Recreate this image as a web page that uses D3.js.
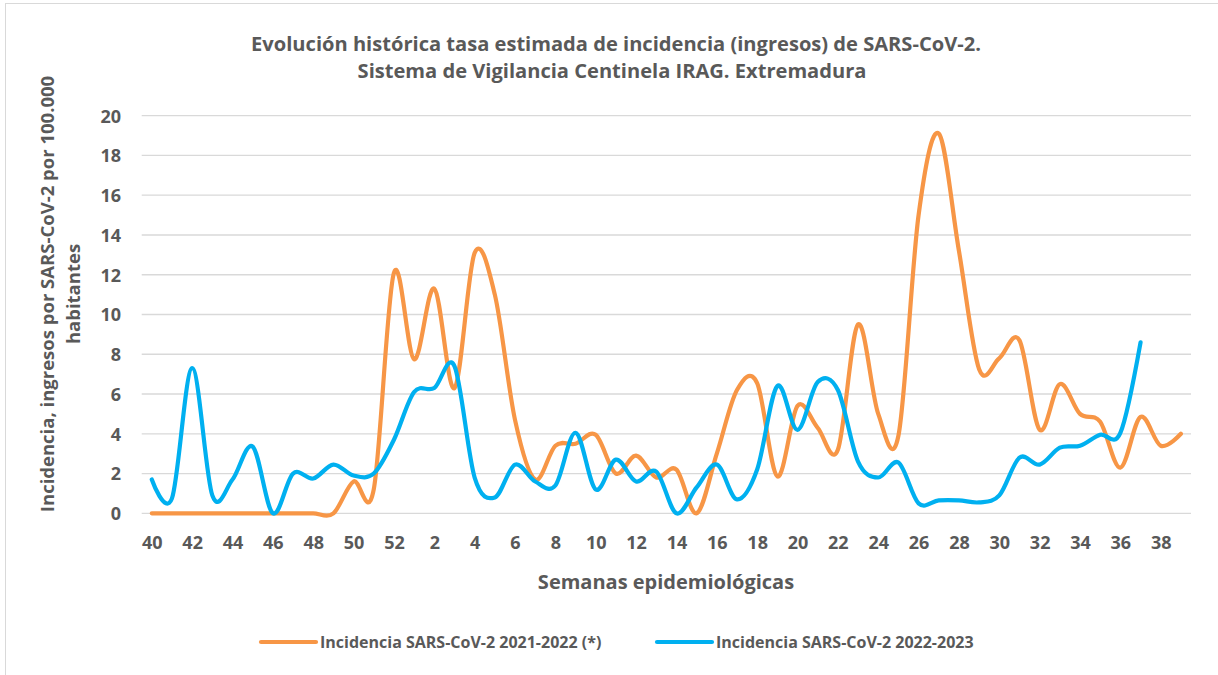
<!DOCTYPE html>
<html lang="es">
<head>
<meta charset="UTF-8">
<title>Incidencia SARS-CoV-2 Extremadura</title>
<script src="https://d3js.org/d3.v7.min.js"></script>
<style>
  body { margin: 0; background: #fff; }
  text { font-family: "Open Sans", "Noto Sans", sans-serif; font-weight: bold; fill: #595959; }
</style>
</head>
<body>
<div id="chart"></div>
<script>
// semanas epidemiológicas 40..52 y 1..39
var weeks = ["40","41","42","43","44","45","46","47","48","49","50","51","52",
             "1","2","3","4","5","6","7","8","9","10","11","12","13","14","15","16","17","18","19","20",
             "21","22","23","24","25","26","27","28","29","30","31","32","33","34","35","36","37","38","39"];

var serie2122 = [0,0,0,0,0,0,0,0,0,0,1.6,1.2,12.1,
                 7.75,11.3,6.3,13.1,11.0,4.7,1.7,3.4,3.5,3.95,2.0,2.9,1.8,2.2,0,3.0,6.2,6.55,1.85,5.4,
                 4.3,3.2,9.5,5.0,3.9,15.0,19.1,13.2,7.25,7.8,8.7,4.2,6.5,5.0,4.6,2.3,4.85,3.4,4.0];

var serie2223 = [1.7,0.75,7.3,0.9,1.7,3.35,0,2.0,1.75,2.45,1.9,2.0,3.7,
                 6.1,6.3,7.4,1.8,0.8,2.45,1.6,1.4,4.05,1.2,2.7,1.6,2.1,0,1.3,2.45,0.7,2.2,6.4,4.2,
                 6.6,6.2,2.6,1.8,2.55,0.5,0.65,0.65,0.55,0.9,2.8,2.45,3.3,3.4,3.95,4.05,8.6];

var yTicks = [0,2,4,6,8,10,12,14,16,18,20];
var seriesNames = ["Incidencia SARS-CoV-2 2021-2022 (*)", "Incidencia SARS-CoV-2 2022-2023"];
var seriesColors = ["#F79646", "#00B0F0"];

var W = 1218, H = 675;
var plot = {left: 141.7, right: 1191, top: 115.7, bottom: 513.3};

var svg = d3.select("#chart").append("svg")
  .attr("width", W).attr("height", H);

// marco del gráfico
svg.append("rect")
  .attr("x", 5.5).attr("y", 3.5)
  .attr("width", W + 20).attr("height", H + 20)
  .attr("fill", "#fff").attr("stroke", "#d9d9d9").attr("stroke-width", 1);

var step = (plot.right - plot.left) / weeks.length;
var x = d3.scalePoint()
  .domain(weeks)
  .range([plot.left + step / 2, plot.right - step / 2]);

var y = d3.scaleLinear()
  .domain([0, 20])
  .range([plot.bottom, plot.top]);

// rejilla
svg.append("g")
  .selectAll("line")
  .data(yTicks)
  .enter().append("line")
    .attr("x1", plot.left).attr("x2", plot.right)
    .attr("y1", function(d) { return y(d); })
    .attr("y2", function(d) { return y(d); })
    .attr("stroke", "#d9d9d9")
    .attr("stroke-width", 1.3);

// eje y
var yAxis = svg.append("g")
  .attr("transform", "translate(" + 121 + ",0)")
  .call(d3.axisLeft(y).tickValues(yTicks).tickSize(0).tickPadding(0));
yAxis.select(".domain").remove();
yAxis.selectAll("text")
  .style("font-size", "18px")
  .attr("dy", "0.35em");

// eje x (una etiqueta de cada dos)
var xAxis = svg.append("g")
  .attr("transform", "translate(0," + 536 + ")")
  .call(d3.axisBottom(x)
    .tickValues(weeks.filter(function(d, i) { return i % 2 === 0; }))
    .tickSize(0).tickPadding(0));
xAxis.select(".domain").remove();
xAxis.selectAll("text")
  .style("font-size", "18px")
  .attr("dy", "0.71em");

// líneas suavizadas
var line = d3.line()
  .x(function(d) { return x(d.week); })
  .y(function(d) { return y(d.value); })
  .curve(d3.curveCardinal.tension(0));

[serie2122, serie2223].forEach(function(values, k) {
  var pts = values.map(function(v, i) { return {week: weeks[i], value: v}; });
  svg.append("path")
    .datum(pts)
    .attr("fill", "none")
    .attr("stroke", seriesColors[k])
    .attr("stroke-width", 4.2)
    .attr("stroke-linecap", "round")
    .attr("stroke-linejoin", "round")
    .attr("d", line);
});

// títulos
svg.append("text")
  .attr("x", 616).attr("y", 51)
  .attr("text-anchor", "middle")
  .style("font-size", "20.1px")
  .text("Evolución histórica tasa estimada de incidencia (ingresos) de SARS-CoV-2.");
svg.append("text")
  .attr("x", 612).attr("y", 78)
  .attr("text-anchor", "middle")
  .style("font-size", "20.1px")
  .text("Sistema de Vigilancia Centinela IRAG. Extremadura");

svg.append("text")
  .attr("x", 666).attr("y", 589)
  .attr("text-anchor", "middle")
  .style("font-size", "20px")
  .text("Semanas epidemiológicas");

var yTitle = svg.append("text")
  .attr("transform", "translate(0,294) rotate(-90)")
  .attr("text-anchor", "middle")
  .style("font-size", "18.5px");
yTitle.append("tspan").attr("x", 0).attr("y", 54)
  .text("Incidencia, ingresos por SARS-CoV-2 por  100.000");
yTitle.append("tspan").attr("x", 0).attr("y", 80)
  .text("habitantes");

// leyenda
var legendX = [261, 657];
seriesNames.forEach(function(name, k) {
  var g = svg.append("g").attr("transform", "translate(" + legendX[k] + ",642)");
  g.append("line")
    .attr("x1", 0).attr("x2", 55)
    .attr("stroke", seriesColors[k])
    .attr("stroke-width", 4.2)
    .attr("stroke-linecap", "round");
  g.append("text")
    .attr("x", 59).attr("y", 6)
    .style("font-size", "16px")
    .text(name);
});
</script>
</body>
</html>
